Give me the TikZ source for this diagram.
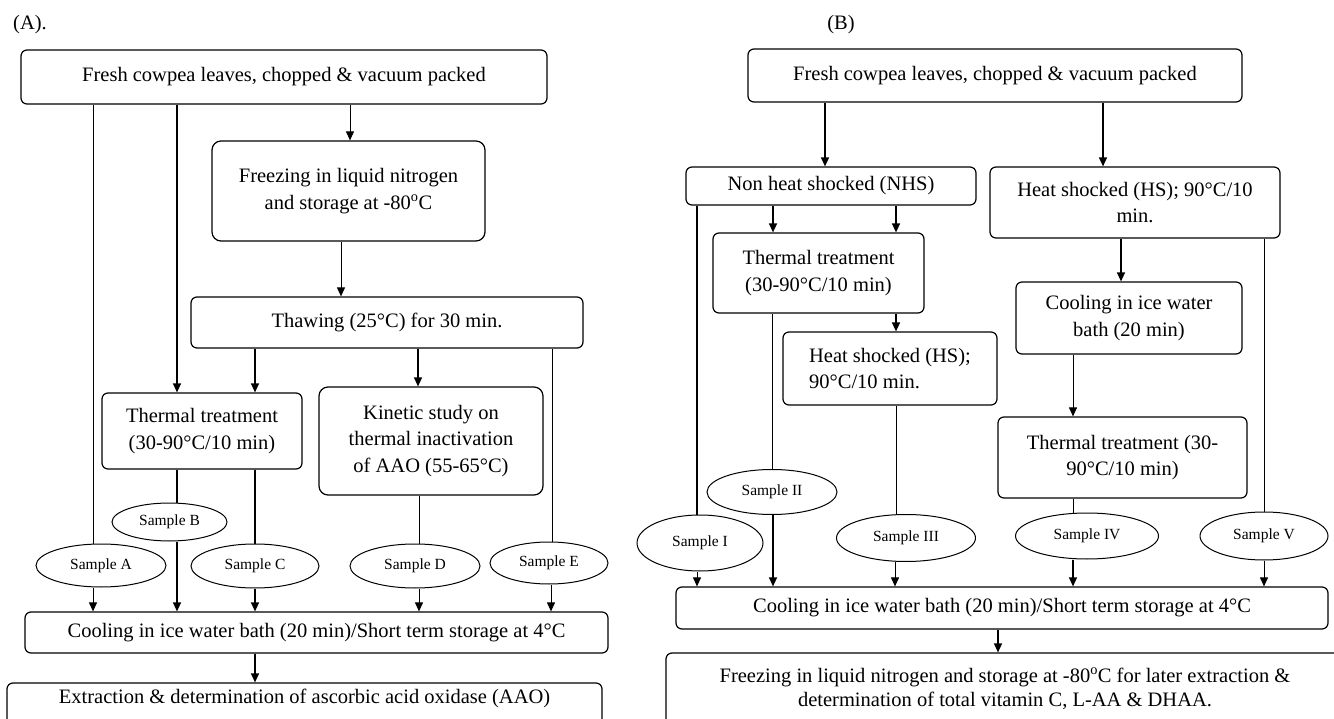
\documentclass[tikz,border=0pt]{standalone}
\usepackage{fontspec}
\setmainfont{Liberation Serif}
\usetikzlibrary{arrows.meta,shapes.geometric}
\begin{document}
\begin{tikzpicture}[x=1pt,y=-1pt,
  box/.style={draw, rounded corners=6pt, line width=1.2pt, inner sep=0pt, align=center, font=\fontsize{20.5}{26.5}\selectfont},
  plain/.style={inner sep=0pt, align=center, font=\fontsize{20.5}{25}\selectfont},
  smp/.style={draw, ellipse, line width=1pt, inner sep=0pt, font=\fontsize{15.5}{18}\selectfont},
  arr/.style={line width=1.3pt, -{Triangle[length=9pt,width=8pt]}},
  tarr/.style={line width=1pt, -{Triangle[length=9pt,width=8pt]}},
  ln/.style={line width=1.3pt},
  tln/.style={line width=0.9pt}]
\useasboundingbox (0,0) rectangle (1334,719);

% ---------------- Panel A ----------------
\node[plain] (labA) at (30,25) {(A).};
\node[box, minimum width=526pt, minimum height=54pt] (A1) at (284,77) {Fresh cowpea leaves, chopped \& vacuum packed};
\node[box, rounded corners=9pt, minimum width=273pt, minimum height=100pt] (frz) at (348.5,191) {Freezing in liquid nitrogen\\and storage at -80\textsuperscript{o}C};
\node[box, minimum width=392pt, minimum height=51pt] (thaw) at (387,322.5) {Thawing (25°C) for 30 min.};
\node[box, minimum width=200pt, minimum height=76pt] (thA) at (202,431) {Thermal treatment\\(30-90°C/10 min)};
\node[box, rounded corners=9pt, minimum width=224pt, minimum height=108pt] (kin) at (431,441) {Kinetic study on\\thermal inactivation\\of AAO (55-65°C)};
\node[smp, minimum width=130pt, minimum height=43pt] (sA) at (101,565.5) {Sample A};
\node[smp, minimum width=115pt, minimum height=38pt] (sB) at (169.5,522) {Sample B};
\node[smp, minimum width=128pt, minimum height=44pt] (sC) at (255,566) {Sample C};
\node[smp, minimum width=130pt, minimum height=44pt] (sD) at (415,566) {Sample D};
\node[smp, minimum width=118pt, minimum height=42pt] (sE) at (549,563) {Sample E};
\node[box, minimum width=583pt, minimum height=41pt] (coolA) at (316.5,632.5) {Cooling in ice water bath (20 min)/Short term storage at 4°C};
\node[box, minimum width=595pt, minimum height=44pt] (extr) at (304.5,705) {};
\node[plain] (extrT) at (304.5,698) {Extraction \& determination of ascorbic acid oxidase (AAO)};

\draw[tln] (A1.south -| 93,0) -- (sA.north -| 93,0);
\draw[arr] (A1.south -| 177,0) -- (thA.north -| 177,0);
\draw[tarr] (A1.south -| 350,0) -- (frz.north -| 350,0);
\draw[tarr] (frz.south -| 341,0) -- (thaw.north -| 341,0);
\draw[arr] (thaw.south -| 255,0) -- (thA.north -| 255,0);
\draw[arr] (thaw.south -| 418,0) -- (kin.north -| 418,0);
\draw[tln] (thaw.south -| 552,0) -- (sE.north -| 552,0);
\draw[ln] (thA.south -| 177,0) -- (sB.north -| 177,0);
\draw[ln] (thA.south -| 255,0) -- (sC.north -| 255,0);
\draw[tln] (kin.south -| 419,0) -- (sD.north -| 419,0);
\draw[tarr] (sA.south -| 93,0) -- (coolA.north -| 93,0);
\draw[arr] (sB.south -| 177,0) -- (coolA.north -| 177,0);
\draw[arr] (sC.south -| 255,0) -- (coolA.north -| 255,0);
\draw[tarr] (sD.south -| 419,0) -- (coolA.north -| 419,0);
\draw[tarr] (sE.south -| 551,0) -- (coolA.north -| 551,0);
\draw[arr] (coolA.south -| 255,0) -- (extr.north -| 255,0);

% ---------------- Panel B ----------------
\node[plain] (labB) at (841,25) {(B)};
\node[box, minimum width=494pt, minimum height=53pt] (B1) at (995,75.5) {Fresh cowpea leaves, chopped \& vacuum packed};
\node[box, minimum width=290pt, minimum height=38pt] (nhs) at (831,186) {Non heat shocked (NHS)};
\node[box, minimum width=290pt, minimum height=71pt] (hs) at (1135,202.5) {Heat shocked (HS); 90°C/10\\min.};
\node[box, minimum width=211pt, minimum height=80pt] (thB) at (818.5,273) {Thermal treatment\\(30-90°C/10 min)};
\node[box, align=left, minimum width=214pt, minimum height=73pt] (hs2) at (890,368.5) {Heat shocked (HS);\\90°C/10 min.};
\node[box, minimum width=226pt, minimum height=72pt] (cool2) at (1129,318) {Cooling in ice water\\bath (20 min)};
\node[box, minimum width=249pt, minimum height=81pt] (th2) at (1122.5,457.5) {Thermal treatment (30-\\90°C/10 min)};
\node[smp, minimum width=126pt, minimum height=56pt] (sI) at (700,543) {Sample I};
\node[smp, minimum width=130pt, minimum height=45pt] (sII) at (772,492) {Sample II};
\node[smp, minimum width=139pt, minimum height=47pt] (sIII) at (906,538) {Sample III};
\node[smp, minimum width=143pt, minimum height=46pt] (sIV) at (1087,536) {Sample IV};
\node[smp, minimum width=128pt, minimum height=48pt] (sV) at (1264,536) {Sample V};
\node[box, minimum width=652pt, minimum height=42pt] (coolB) at (1002,608) {Cooling in ice water bath (20 min)/Short term storage at 4°C};
\node[box, minimum width=674pt, minimum height=74pt] (finB) at (1003,690) {};
\node[plain, font=\fontsize{20.5}{24.5}\selectfont] (finT) at (1005,689) {Freezing in liquid nitrogen and storage at -80\textsuperscript{o}C for later extraction \&\\determination of total vitamin C, L-AA \& DHAA.};

\draw[arr] (B1.south -| 825,0) -- (nhs.north -| 825,0);
\draw[arr] (B1.south -| 1103,0) -- (hs.north -| 1103,0);
\draw[ln] (nhs.south -| 697,0) -- (sI.north -| 697,0);
\draw[arr] (nhs.south -| 773,0) -- (thB.north -| 773,0);
\draw[arr] (nhs.south -| 896,0) -- (thB.north -| 896,0);
\draw[tln] (thB.south -| 772,0) -- (sII.north -| 772,0);
\draw[arr] (thB.south -| 896,0) -- (hs2.north -| 896,0);
\draw[tln] (hs2.south -| 896,0) -- (sIII.north -| 896,0);
\draw[arr] (hs.south -| 1121,0) -- (cool2.north -| 1121,0);
\draw[tln] (hs.south -| 1264,0) -- (sV.north -| 1264,0);
\draw[tarr] (cool2.south -| 1073,0) -- (th2.north -| 1073,0);
\draw[tln] (th2.south -| 1073,0) -- (sIV.north -| 1073,0);
\draw[tarr] (sI.south -| 697,0) -- (coolB.north -| 697,0);
\draw[arr] (sII.south -| 773,0) -- (coolB.north -| 773,0);
\draw[tarr] (sIII.south -| 895,0) -- (coolB.north -| 895,0);
\draw[arr] (sIV.south -| 1073,0) -- (coolB.north -| 1073,0);
\draw[tarr] (sV.south -| 1264,0) -- (coolB.north -| 1264,0);
\draw[arr] (coolB.south -| 998,0) -- (finB.north -| 998,0);
\end{tikzpicture}
\end{document}
